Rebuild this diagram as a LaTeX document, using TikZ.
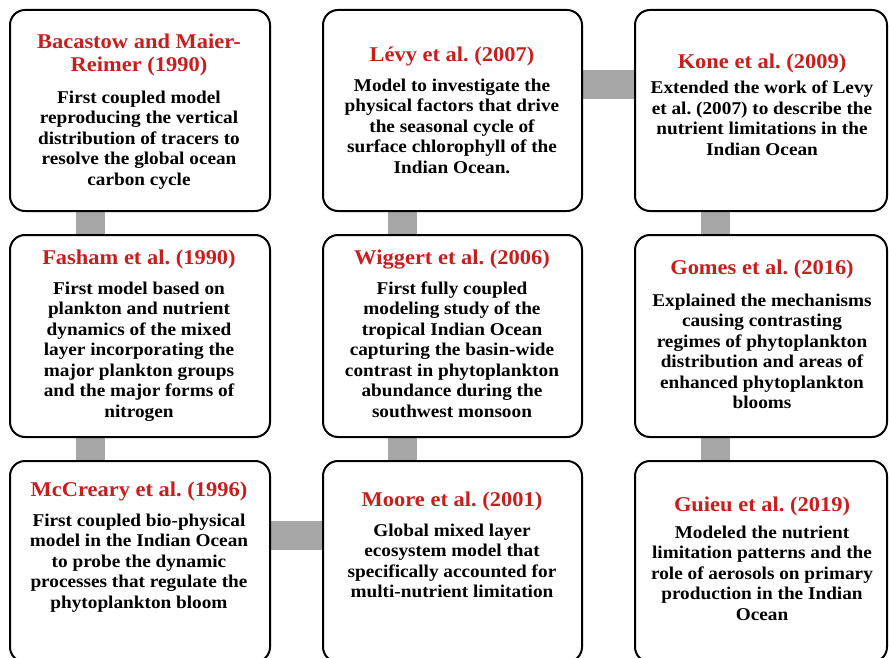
\documentclass[tikz,border=0pt]{standalone}
\usepackage{fontspec}
\setmainfont{Liberation Serif}[FakeStretch=1.07]
\usetikzlibrary{backgrounds}
\definecolor{titlered}{RGB}{200,30,30}
\definecolor{conngray}{RGB}{166,166,166}
\frenchspacing
\begin{document}
\begin{tikzpicture}[x=1pt,y=-1pt,
  box/.style={draw=black, line width=2pt, rounded corners=15pt, fill=white, inner sep=0pt},
  conn/.style={draw=conngray, line width=29pt},
  ttl/.style={font=\fontsize{21}{23}\selectfont\bfseries, text=titlered, align=center, anchor=north, inner sep=0pt},
  txt/.style={font=\fontsize{18}{20.5}\selectfont\bfseries, text=black, align=center, anchor=north, inner sep=0pt}]
\useasboundingbox (0,0) rectangle (889,658);
\clip (0,0) rectangle (889,658);
% boxes
\node[box, minimum width=260pt, minimum height=201pt] (b11) at (140,110.5) {};
\node[box, minimum width=260pt, minimum height=202pt] (b12) at (140,336) {};
\node[box, minimum width=260pt, minimum height=201pt] (b13) at (140,561.5) {};
\node[box, minimum width=259pt, minimum height=201pt] (b21) at (452.5,110.5) {};
\node[box, minimum width=259pt, minimum height=202pt] (b22) at (452.5,336) {};
\node[box, minimum width=259pt, minimum height=201pt] (b23) at (452.5,561.5) {};
\node[box, minimum width=252pt, minimum height=201pt] (b31) at (761,110.5) {};
\node[box, minimum width=252pt, minimum height=202pt] (b32) at (761,336) {};
\node[box, minimum width=252pt, minimum height=201pt] (b33) at (761,561.5) {};
% connectors
\begin{scope}[on background layer]
\draw[conn] ([xshift=-49.5pt]b11.south) -- ([xshift=-49.5pt]b12.north);
\draw[conn] ([xshift=-49.5pt]b12.south) -- ([xshift=-49.5pt]b13.north);
\draw[conn] ([yshift=26pt]b13.east) -- ([yshift=26pt]b23.west);
\draw[conn] ([xshift=-50.5pt]b23.north) -- ([xshift=-50.5pt]b22.south);
\draw[conn] ([xshift=-50.5pt]b22.north) -- ([xshift=-50.5pt]b21.south);
\draw[conn] ([yshift=25.5pt]b21.east) -- ([yshift=25.5pt]b31.west);
\draw[conn] ([xshift=-46pt]b31.south) -- ([xshift=-46pt]b32.north);
\draw[conn] ([xshift=-46pt]b32.south) -- ([xshift=-46pt]b33.north);
\end{scope}
% texts
\node[ttl] (t11) at (139,34) {Bacastow and Maier-\\Reimer (1990)};
\node[txt] (d11) at (139,90.5) {First coupled model\\reproducing the vertical\\distribution of tracers to\\resolve the global ocean\\carbon cycle};
\node[ttl] (t12) at (139,250) {Fasham et al. (1990)};
\node[txt] (d12) at (139,281.5) {First model based on\\plankton and nutrient\\dynamics of the mixed\\layer incorporating the\\major plankton groups\\and the major forms of\\nitrogen};
\node[ttl] (t13) at (139,482) {McCreary et al. (1996)};
\node[txt] (d13) at (139,513.5) {First coupled bio-physical\\model in the Indian Ocean\\to probe the dynamic\\processes that regulate the\\phytoplankton bloom};
\node[ttl] (t21) at (452,47) {Lévy et al. (2007)};
\node[txt] (d21) at (452,78.5) {Model to investigate the\\physical factors that drive\\the seasonal cycle of\\surface chlorophyll of the\\Indian Ocean.};
\node[ttl] (t22) at (452,250) {Wiggert et al. (2006)};
\node[txt] (d22) at (452,281.5) {First fully coupled\\modeling study of the\\tropical Indian Ocean\\capturing the basin-wide\\contrast in phytoplankton\\abundance during the\\southwest monsoon};
\node[ttl] (t23) at (452,492) {Moore et al. (2001)};
\node[txt] (d23) at (452,523.5) {Global mixed layer\\ecosystem model that\\specifically accounted for\\multi-nutrient limitation};
\node[ttl] (t31) at (762,54) {Kone et al. (2009)};
\node[txt] (d31) at (762,81) {Extended the work of Levy\\et al. (2007) to describe the\\nutrient limitations in the\\Indian Ocean};
\node[ttl] (t32) at (762,260) {Gomes et al. (2016)};
\node[txt] (d32) at (762,293.5) {Explained the mechanisms\\causing contrasting\\regimes of phytoplankton\\distribution and areas of\\enhanced phytoplankton\\blooms};
\node[ttl] (t33) at (762,497) {Guieu et al. (2019)};
\node[txt] (d33) at (762,525.5) {Modeled the nutrient\\limitation patterns and the\\role of aerosols on primary\\production in the Indian\\Ocean};
\end{tikzpicture}
\end{document}
